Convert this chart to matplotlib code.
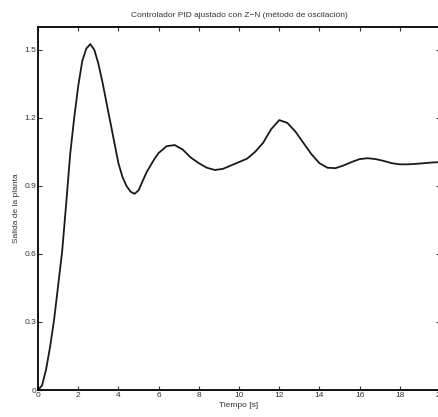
import numpy as np
import matplotlib
matplotlib.use('Agg')
import matplotlib.pyplot as plt

plt.rcParams['font.family'] = ['Liberation Sans', 'DejaVu Sans']

# respuesta
tiempo = [0, 0.2, 0.4, 0.6, 0.8, 1.0, 1.2, 1.4, 1.6, 1.8, 2.0, 2.2, 2.4, 2.6,
          2.8, 3.0, 3.2, 3.4, 3.6, 3.8, 4.0, 4.2, 4.4, 4.6, 4.8, 5.0, 5.2,
          5.4, 5.6, 5.8, 6.0, 6.4, 6.8, 7.2, 7.6, 8.0, 8.4, 8.8, 9.2, 9.6,
          10.0, 10.4, 10.8, 11.2, 11.6, 12.0, 12.4, 12.8, 13.2, 13.6, 14.0,
          14.4, 14.8, 15.2, 15.6, 16.0, 16.4, 16.8, 17.2, 17.6, 18.0, 18.4,
          18.8, 19.2, 19.6, 20.0]
salida = [0, 0.02, 0.09, 0.19, 0.31, 0.46, 0.61, 0.82, 1.04, 1.2, 1.34, 1.45,
          1.505, 1.525, 1.5, 1.44, 1.36, 1.27, 1.18, 1.09, 1.0, 0.94, 0.9,
          0.875, 0.865, 0.88, 0.92, 0.96, 0.99, 1.02, 1.045, 1.075, 1.08,
          1.06, 1.025, 1.0, 0.98, 0.97, 0.975, 0.99, 1.005, 1.02, 1.05, 1.09,
          1.15, 1.19, 1.178, 1.14, 1.09, 1.04, 1.0, 0.98, 0.978, 0.99, 1.005,
          1.018, 1.022, 1.018, 1.01, 1.0, 0.995, 0.995, 0.997, 1.0, 1.003,
          1.005]

xticks = [0, 2, 4, 6, 8, 10, 12, 14, 16, 18, 20]
yticks = [0, 0.3, 0.6, 0.9, 1.2, 1.5]
ytick_labels = ['0', '0.3', '0.6', '0.9', '1.2', '1.5']

fig = plt.figure(figsize=(4.39, 4.17), dpi=100)
ax = fig.add_axes([0.0866, 0.0647, 0.9157, 0.8703])

ax.plot(tiempo, salida, color='#1a1a1a', linewidth=1.3)

ax.set_xlim(0, 20)
ax.set_ylim(0, 1.6)
ax.set_xticks(xticks)
ax.set_yticks(yticks)
ax.set_yticklabels(ytick_labels)
ax.tick_params(direction='in', top=True, right=True, length=3, width=0.8,
               labelsize=6, pad=1.5, colors='#333333')
for s in ax.spines.values():
    s.set_linewidth(1.3)

ax.set_title('Controlador PID ajustado con Z\u2212N (método de oscilación)',
             fontsize=6, pad=7, color='#333333')
ax.set_xlabel('Tiempo [s]', fontsize=6, labelpad=2, color='#333333')
ax.set_ylabel('Salida de la planta', fontsize=6, labelpad=3, color='#333333')

fig.savefig('out.png', dpi=100)
